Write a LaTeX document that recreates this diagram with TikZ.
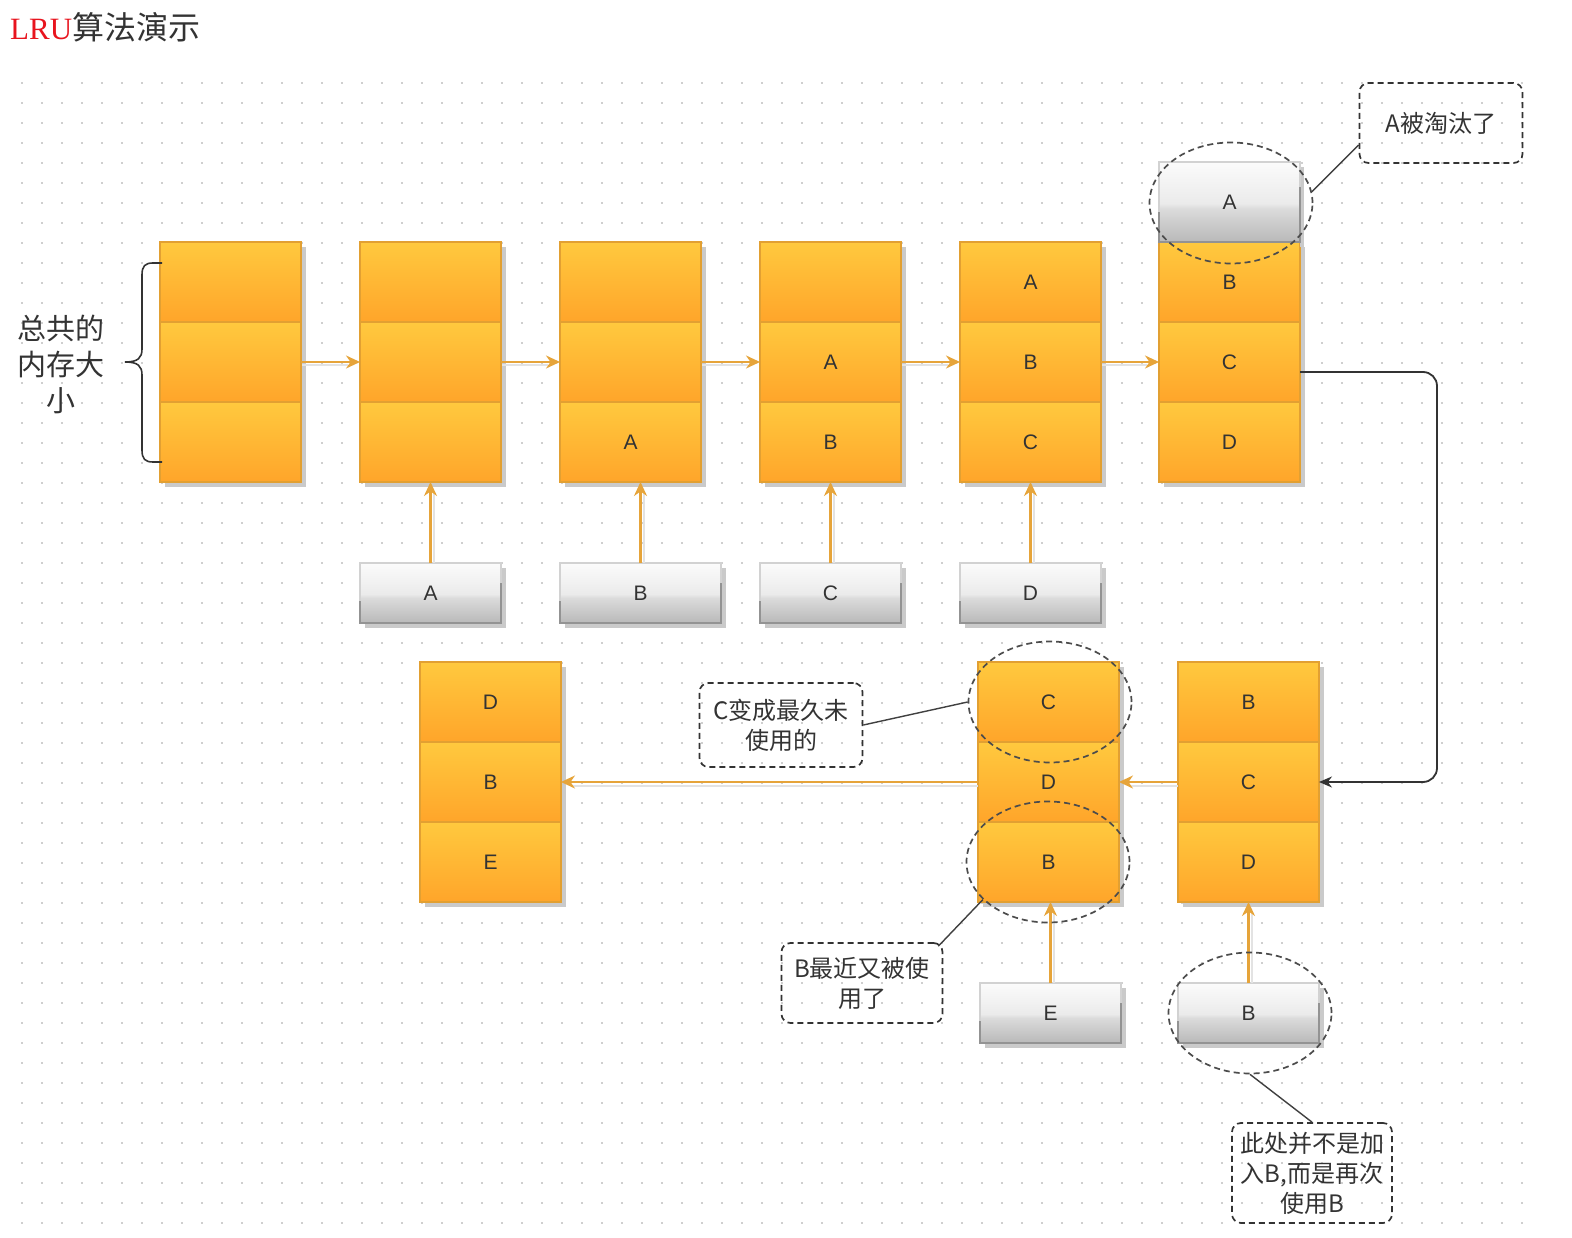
\documentclass[tikz,border=0pt]{standalone}
\usepackage{fontspec}
\setmainfont{Liberation Sans}
\newfontfamily\cjk{Noto Sans CJK SC}
\newfontfamily\titleserif{Liberation Serif}
\usetikzlibrary{arrows.meta,shapes.geometric,calc}

\definecolor{orT}{HTML}{FFC93E}
\definecolor{orB}{HTML}{FFA52A}
\definecolor{orD}{HTML}{E2A032}
\definecolor{arr}{HTML}{E6A43A}
\definecolor{txt}{HTML}{333333}
\definecolor{dotc}{HTML}{CFCFCF}
\definecolor{shd}{HTML}{CACACA}
\definecolor{titlered}{HTML}{E8141E}

\pgfdeclareverticalshading{glossy}{100bp}{color(0bp)=(gray!55); color(25bp)=(gray!55); color(46bp)=(gray!28); color(49bp)=(gray!16); color(75bp)=(gray!3); color(100bp)=(gray!3)}

\tikzset{
  cell/.style={draw=orD, line width=1.2pt, top color=orT, bottom color=orB,
    minimum width=141pt, minimum height=80pt, inner sep=0pt, outer sep=0pt,
    font=\fontsize{21}{24}\selectfont, text=txt},
  gbox/.style={draw=gray!35, line width=1.2pt, shading=glossy,
    minimum height=60pt, inner sep=0pt, outer sep=0pt,
    font=\fontsize{21}{24}\selectfont, text=txt},
  gedge/.style={draw=gray!85, line width=1.6pt},
  oarr/.style={draw=arr, line width=2.2pt, -{Stealth[length=14pt,width=13pt]}},
  oshade/.style={draw=gray!22, line width=2pt},
  ell/.style={ellipse, draw=black!70, dash pattern=on 6pt off 4pt, line width=1.7pt,
    minimum width=163pt, minimum height=121pt, inner sep=0pt},
  callout/.style={draw=black!80, dash pattern=on 6pt off 4pt, line width=1.7pt,
    rounded corners=9pt, minimum width=161pt, minimum height=80pt, align=center,
    inner sep=0pt, font=\cjk\fontsize{24}{30}\selectfont, text=txt},
  lead/.style={draw=black!75, line width=1.4pt}
}

\newcommand\lrublk[6]{%
  \fill[shd] (#2+5,#3+5) rectangle (#2+146,#3+245);
  \node[cell,anchor=north west] (#1a) at (#2,#3) {#4};
  \node[cell,anchor=north] (#1b) at (#1a.south) {#5};
  \node[cell,anchor=north] (#1c) at (#1b.south) {#6};
}
\newcommand\gbx[5]{%
  \fill[shd] (#2+5,#3+5) rectangle (#2+#4+5,#3+65);
  \node[gbox,minimum width=#4pt,anchor=north west] (#1) at (#2,#3) {#5};
  \draw[gedge] ($(#1.north east)+(0,20)$) -- (#1.south east) -- (#1.south west) -- ($(#1.south west)+(0,-22)$);
}

\begin{document}
\begin{tikzpicture}[x=1pt,y=-1pt]
\useasboundingbox[fill=white] (0,0) rectangle (1572,1238);

% dotted grid
\foreach \yy in {83,103,...,1223}
  \draw[dotc, line width=1.6pt, dash pattern=on 1.6pt off 18.4pt] (21.2,\yy) -- (1524,\yy);

% title
\node[anchor=base west, inner sep=0pt] (title) at (10,40)
  {\titleserif\fontsize{31}{36}\selectfont\color{titlered}LRU\cjk\fontsize{32}{36}\selectfont\color{txt}算法演示};

% top row blocks
\lrublk{bA}{160}{242}{}{}{}
\lrublk{bB}{360}{242}{}{}{}
\lrublk{bC}{560}{242}{}{}{A}
\lrublk{bD}{760}{242}{}{A}{B}
\lrublk{bE}{960}{242}{A}{B}{C}
\lrublk{bF}{1159}{242}{B}{C}{D}
\fill[shd] (1300,167) rectangle (1304,247);
\node[gbox, minimum width=141pt, minimum height=80pt, anchor=north west] (gTop) at (1159,162) {A};
\draw[gedge] ($(gTop.north east)+(0,25)$) -- (gTop.south east) -- (gTop.south west) -- ($(gTop.south west)+(0,-30)$);

% bottom row blocks
\lrublk{rL}{420}{662}{D}{B}{E}
\lrublk{rM}{978}{662}{C}{D}{B}
\lrublk{rR}{1178}{662}{B}{C}{D}

% input boxes
\gbx{gA}{360}{563}{141}{A}
\gbx{gB}{560}{563}{161}{B}
\gbx{gC}{760}{563}{141}{C}
\gbx{gD}{960}{563}{141}{D}
\gbx{gE}{980}{983}{141}{E}
\gbx{gF}{1178}{983}{141}{B}

% brace and its label
\draw[txt, line width=1.6pt]
  (162,263) -- (153,263) .. controls (145,263) and (142,266) .. (142,275)
  -- (142,349) .. controls (142,358) and (138,362) .. (125,362)
  .. controls (138,362) and (142,366) .. (142,375)
  -- (142,450) .. controls (142,459) and (145,462) .. (153,462) -- (162,462);
\node[align=center, inner sep=0pt, text=txt, font=\cjk\fontsize{29}{36}\selectfont] (memlabel) at (61,364) {总共的\\内存大\\小};

% horizontal orange arrows (top row)
\foreach \p/\q in {bA/bB,bB/bC,bC/bD,bD/bE,bE/bF}{
  \draw[oshade] ($(\p b.east)+(1,3.5)$) -- ($(\q b.west)+(-12,3.5)$);
  \draw[oarr] (\p b.east) -- (\q b.west);
}

% vertical orange arrows
\foreach \g/\b in {gA/bBc,gB/bCc,gC/bDc,gD/bEc,gE/rMc,gF/rRc}{
  \draw[oshade] ($(\g.north)+(3.5,0)$) -- ($(\g.north |- \b.south)+(3.5,12)$);
  \draw[oarr] (\g.north) -- (\g.north |- \b.south);
}

% bottom row orange arrows
\draw[oshade] ($(rRb.west)+(0,3.5)$) -- ($(rMb.east)+(12,3.5)$);
\draw[oarr] (rRb.west) -- (rMb.east);
\draw[oshade] ($(rMb.west)+(0,3.5)$) -- ($(rLb.east)+(12,3.5)$);
\draw[oarr] (rMb.west) -- (rLb.east);

% black connector
\coordinate (c1) at ($(bFb.east)+(0,10)$);
\coordinate (k) at (1437,0);
\draw[line width=1.8pt, black!80, rounded corners=14pt, -{Stealth[length=13pt,width=11pt]}]
  (c1) -- (c1 -| k) -- (k |- rRb.east) -- (rRb.east);

% dashed ellipses
\node[ell] (e1) at (1231,203) {};
\node[ell] (e2) at (1050,702) {};
\node[ell] (e3) at (1048,862) {};
\node[ell] (e4) at (1250,1013) {};

% callouts
\node[callout, minimum width=163pt] (call1) at (1441,123) {A被淘汰了};
\node[callout, minimum width=163pt, minimum height=84pt] (call2) at (781,725) {C变成最久未\\使用的};
\node[callout] (call3) at (862,983) {B最近又被使\\用了};
\node[callout, minimum width=160pt, minimum height=100pt] (call4) at (1312,1173) {此处并不是加\\入B,而是再次\\使用B};

% lead lines
\draw[lead] ($(call1.west)+(0,22)$) -- (e1.8);
\draw[lead] (call2.east) -- (e2.west);
\draw[lead] ($(call3.north east)+(-5,4)$) -- (e3.210);
\draw[lead] (e4.south) -- (call4.north);
\end{tikzpicture}
\end{document}
